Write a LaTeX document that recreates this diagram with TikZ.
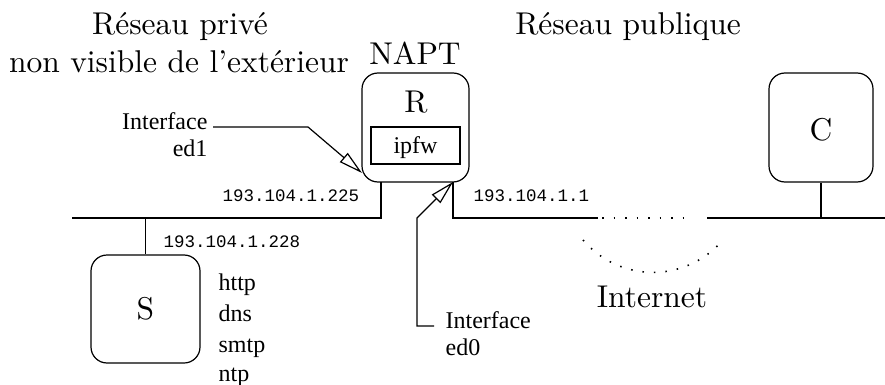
\documentclass[tikz,border=0pt]{standalone}
\usepackage{fontspec}
\newfontfamily\tms{Liberation Serif}
\newfontfamily\crr{Liberation Mono}
\newfontfamily\cmten{lmroman10-regular.otf}
\usetikzlibrary{arrows.meta}
\begin{document}
\begin{tikzpicture}[x=1pt,y=1pt,line width=1.2pt,
  big/.style={font=\cmten\fontsize{31.5}{36}\selectfont, inner sep=0pt},
  small/.style={font=\tms\fontsize{24}{28}\selectfont, inner sep=0pt},
  mono/.style={font=\crr\fontsize{17.5}{20}\selectfont, inner sep=0pt},
  host/.style={draw, rounded corners=16pt, inner sep=0pt},
  openarrow/.style={-{Triangle[open,length=24pt,width=12pt,line width=1.2pt]}},
  dotline/.style={line width=1.6pt, dash pattern=on 1.5pt off 10pt}]
\useasboundingbox (0,0) rectangle (885,-385);
% titles
\node[big, anchor=base] (t1) at (180,-35) {Réseau privé};
\node[big, anchor=base] (t2) at (179,-73) {non visible de l’extérieur};
\node[big, anchor=base] (napt) at (415,-65) {NAPT};
\node[big, anchor=base] (t3) at (628,-35) {Réseau publique};
% router
\node[host, minimum width=107pt, minimum height=109pt] (R) at (415.5,-127.5) {};
\node[big, anchor=base] (Rl) at (416,-113) {R};
\node[draw, minimum width=89pt, minimum height=37pt, inner sep=0pt] (fw) at (415.5,-145.5) {};
\node[small, anchor=base] (fwl) at (415.5,-153) {ipfw};
% server S
\node[host, minimum width=109pt, minimum height=108pt] (S) at (145.5,-309) {};
\node[big] (Sl) at (145.5,-309) {S};
% client C
\node[host, minimum width=104pt, minimum height=109pt] (C) at (821,-127.5) {};
\node[big] (Cl) at (821,-130) {C};
% coordinates
\coordinate (rl) at (381,-182);
\coordinate (rr) at (453,-182);
\coordinate (lan0) at (72,-218);
\coordinate (lan1) at (381,-218);
\coordinate (sj) at (145.5,-218);
\coordinate (wan0) at (453,-218);
\coordinate (wan1) at (598,-218);
\coordinate (wan2) at (707,-218);
\coordinate (wan3) at (885,-218);
\coordinate (cj) at (821,-218);
% networks
\draw (lan0) -- (lan1) -- (rl);
\draw (sj) -- (S.north);
\draw (rr) -- (wan0) -- (wan1);
\draw (wan2) -- (wan3);
\draw (C.south) -- (cj);
\coordinate (d0) at (602,-218);
\coordinate (d1) at (690,-218);
\draw[dotline] (d0) -- (d1);
\coordinate (a0) at (583,-240);
\coordinate (a1) at (722,-241);
\draw[dotline] (a0) .. controls (620,-283) and (685,-283) .. (a1);
% addresses
\node[mono, anchor=base west] (ip1) at (222,-201) {193.104.1.225};
\node[mono, anchor=base west] (ip2) at (163,-247) {193.104.1.228};
\node[mono, anchor=base west] (ip3) at (473,-201) {193.104.1.1};
% services
\node[small, anchor=base west] (h1) at (218,-290) {http};
\node[small, anchor=base west] (h2) at (218,-321) {dns};
\node[small, anchor=base west] (h3) at (218,-352) {smtp};
\node[small, anchor=base west] (h4) at (218,-381) {ntp};
% interfaces
\node[small, anchor=base east] (i1) at (208,-129) {Interface};
\node[small, anchor=base east] (e1) at (208,-156) {ed1};
\coordinate (i1s) at (213,-127);
\coordinate (i1b) at (308,-127);
\coordinate (i1t) at (362,-173);
\draw[openarrow] (i1s) -- (i1b) -- (i1t);
\node[small, anchor=base west] (i0) at (445,-328) {Interface};
\node[small, anchor=base west] (e0) at (445,-355) {ed0};
\coordinate (i0s) at (434,-326);
\coordinate (i0c) at (417,-326);
\coordinate (i0b) at (417,-218);
\coordinate (i0t) at (453,-182);
\draw[openarrow] (i0s) -- (i0c) -- (i0b) -- (i0t);
\node[big, anchor=base] (inet) at (652,-307) {Internet};
\end{tikzpicture}
\end{document}
